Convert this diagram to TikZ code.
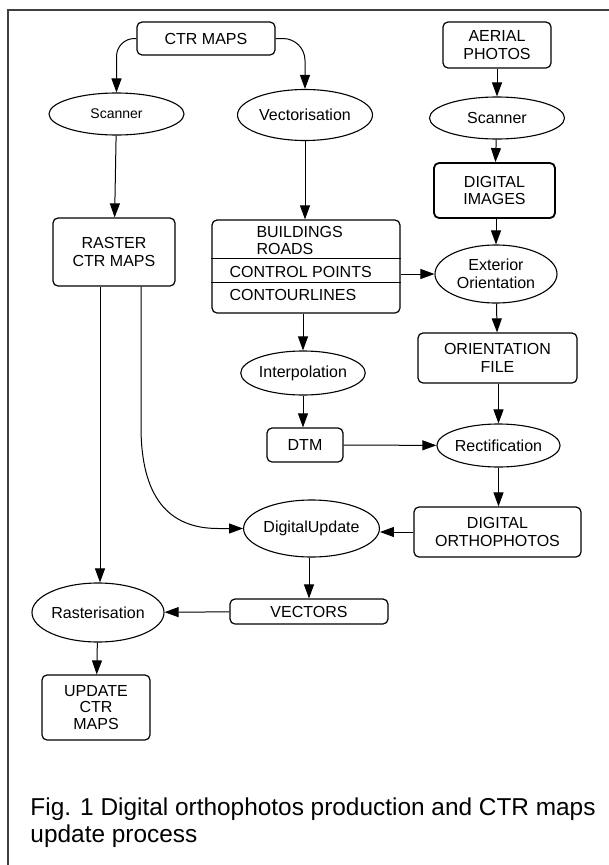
\documentclass[tikz,border=0pt]{standalone}
\usepackage{fontspec}
\setmainfont{Liberation Sans}
\usetikzlibrary{shapes.geometric,arrows.meta}

\begin{document}
\begin{tikzpicture}
  [x=1pt,y=-1pt,line width=1pt,>={Triangle[length=14pt,width=10pt]},
   font=\fontsize{16}{17.5}\selectfont,
   box node/.style={rectangle,rounded corners=5pt,draw,line width=1.2pt,align=center,inner sep=0pt},
   oval node/.style={ellipse,draw,line width=1.1pt,align=center,inner sep=0pt},
   layer text/.style={anchor=base west,inner sep=0pt}]
  \useasboundingbox (0,0) rectangle (609,865);
  \draw[line width=2pt,black!75] (8,865) |- (609,10);

  \node[box node,minimum width=138pt,minimum height=33pt] (ctr) at (206,38.5) {CTR MAPS};
\node[box node,minimum width=108pt,minimum height=46pt] (aerial) at (497,45) {AERIAL\\PHOTOS};
\node[oval node,minimum width=135pt,minimum height=42pt,font=\fontsize{14}{16}\selectfont] (scanL) at (116.5,114) {Scanner};
\node[oval node,minimum width=135pt,minimum height=51pt] (vect) at (305,115) {Vectorisation};
\node[oval node,minimum width=135pt,minimum height=42pt] (scanR) at (497,118) {Scanner};
\node[box node,line width=1.8pt,minimum width=121pt,minimum height=55pt] (digimg) at (494.5,190.5) {DIGITAL\\IMAGES};
\node[box node,minimum width=122pt,minimum height=68pt] (raster) at (114,252) {RASTER\\CTR MAPS};
\node[box node,minimum width=188pt,minimum height=93pt] (layers) at (306,266.5) {};
\node[oval node,minimum width=122pt,minimum height=58pt] (extor) at (496,274) {Exterior\\Orientation};
\node[box node,minimum width=159pt,minimum height=50pt] (orfile) at (497.5,358) {ORIENTATION\\FILE};
\node[oval node,minimum width=122pt,minimum height=44pt] (interp) at (303,373) {Interpolation};
\node[box node,minimum width=76pt,minimum height=34pt] (dtm) at (305,445) {DTM};
\node[oval node,minimum width=121pt,minimum height=43pt] (rectif) at (498.5,445.5) {Rectification};
\node[box node,minimum width=167pt,minimum height=50pt] (ortho) at (497.5,532) {DIGITAL\\ORTHOPHOTOS};
\node[oval node,minimum width=123pt,minimum height=57pt] (digupd) at (311.5,528.5) {DigitalUpdate};
\node[box node,minimum width=158pt,minimum height=25pt] (vectors) at (309,611.5) {VECTORS};
\node[oval node,minimum width=122pt,minimum height=59pt] (rstr) at (98,612.5) {Rasterisation};
\node[box node,minimum width=108pt,minimum height=65pt,font=\fontsize{16}{16.5}\selectfont] (update) at (96,707.5) {UPDATE\\CTR\\MAPS};

  \node[layer text] (bld) at (256,237) {BUILDINGS};
\node[layer text] (rds) at (256,254) {ROADS};
\node[layer text] (cpts) at (229,277) {CONTROL POINTS};
\node[layer text] (cntl) at (229,300.5) {CONTOURLINES};
  \draw ([yshift=-39pt]layers.north west) -- ([yshift=-39pt]layers.north east);
  \draw ([yshift=-63pt]layers.north west) -- ([yshift=-63pt]layers.north east);

  \node[anchor=base west,inner sep=0pt,font=\fontsize{24.4}{27}\selectfont] (cap1) at (30,815) {Fig. 1 Digital orthophotos production and CTR maps};
\node[anchor=base west,inner sep=0pt,font=\fontsize{24.4}{27}\selectfont] (cap2) at (30,842) {update process};

  \draw[->,rounded corners=18pt] (ctr.west) -| (scanL.north);
  \draw[->,rounded corners=22pt] (ctr.east) -| (vect.north);
  \draw[->] (aerial) -- (scanR);
  \draw[->] (scanR) -- (digimg);
  \draw[->] (digimg.south -| extor.north) -- (extor.north);
  \draw[->] (scanL) -- (raster);
  \draw[->] (vect) -- (vect |- layers.north);
  \draw[->] (layers.east |- extor.west) -- (extor.west);
  \draw[->] (extor) -- (orfile);
  \draw[->] (layers.south -| interp.north) -- (interp.north);
  \draw[->] (interp) -- (interp |- dtm.north);
  \draw[->] (dtm) -- (rectif);
  \draw[->] (orfile.south -| rectif.north) -- (rectif.north);
  \draw[->] (rectif.south) -- (rectif.south |- ortho.north);
  \draw[->] (ortho.west) -- (ortho.west -| digupd.east);
  \draw[->] ([xshift=27pt]raster.south) -- ++(0,140) .. controls +(0,70) and +(-50,0) .. ([xshift=-25pt]digupd.west) -- (digupd.west);
  \draw[->] ([xshift=-14pt]raster.south) -- ([xshift=-14pt]raster.south |- rstr.north);
  \draw[->] (vectors.north |- digupd.south) -- (vectors.north);
  \draw[->] (vectors) -- (rstr);
  \draw[->] (rstr) -- (update);


\end{tikzpicture}
\end{document}
